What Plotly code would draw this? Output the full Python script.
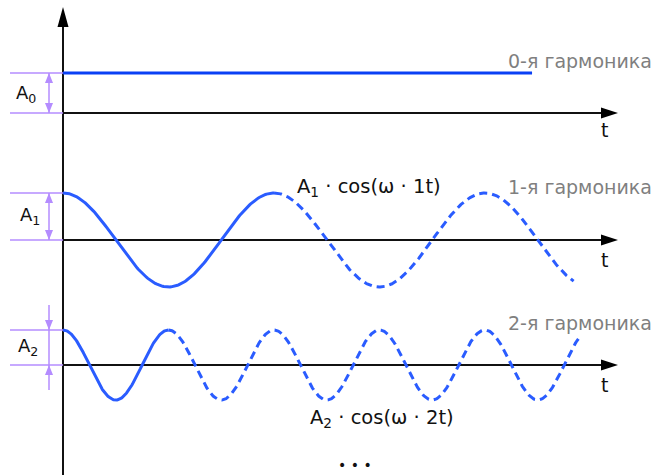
import numpy as np
import plotly.graph_objects as go

# ---------------- data ----------------
harmonics = [0, 1, 2]                       # harmonic number n
amplitudes = [40, 47, 35]                   # A0, A1, A2 (chart units)
baselines = [362, 235, 110]                 # zero level of each row (chart units)
solid_until = [2.223, 1.0, 0.5]             # solid part ends here (t, in periods of 1st harmonic)
curve_end = [2.223, 2.42, 2.445]            # curve ends here (t)
harmonic_labels = ["0-я гармоника", "1-я гармоника", "2-я гармоника"]
amp_labels = ["A<sub>0</sub>", "A<sub>1</sub>", "A<sub>2</sub>"]
formula_labels = {1: "A<sub>1</sub> · cos(ω · 1t)", 2: "A<sub>2</sub> · cos(ω · 2t)"}
axis_label = "t"
ellipsis = "• • •"

# ---------------- layout constants ----------------
W, H = 655, 475
X0_PX = 63          # pixel x of t = 0
PX_PER_T = 211      # pixels per period of 1st harmonic


def X(px):
    return (px - X0_PX) / PX_PER_T


def Y(py):
    return H - py


BLUE_SOLID = "#2a5cff"
BLUE_ROW0 = "#0a40f5"
PURPLE = "#b48cff"
GRAY = "#7f7f7f"
FONT = "DejaVu Sans"

fig = go.Figure()


def poly(xs, ys, color):
    fig.add_trace(go.Scatter(x=list(xs) + [xs[0]], y=list(ys) + [ys[0]], mode="lines",
                             fill="toself", fillcolor=color, line=dict(width=0, color=color),
                             hoverinfo="skip", showlegend=False))


def seg(xs, ys, color, width, dash="solid"):
    fig.add_trace(go.Scatter(x=xs, y=ys, mode="lines",
                             line=dict(color=color, width=width, dash=dash),
                             hoverinfo="skip", showlegend=False))


# vertical axis with arrow
seg([0, 0], [Y(475), Y(26)], "#111111", 2)
poly([X(57.5), X(68.5), X(63)], [Y(27), Y(27), Y(7)], "#000000")

for n, A, b, s_end, c_end, lab, alab in zip(harmonics, amplitudes, baselines,
                                            solid_until, curve_end, harmonic_labels, amp_labels):
    # horizontal axis
    seg([0, X(602)], [b, b], "#111111", 2)
    poly([X(601), X(601), X(618)], [b + 5.5, b - 5.5, b], "#000000")

    # curve
    if n == 0:
        seg([0, c_end], [b + A, b + A], BLUE_ROW0, 3)
    else:
        ts = np.linspace(0, s_end, 200)
        seg(ts, b + A * np.cos(2 * np.pi * n * ts), BLUE_SOLID, 3)
        td = np.linspace(s_end, c_end, 600)
        seg(td, b + A * np.cos(2 * np.pi * n * td), BLUE_SOLID, 3, dash="8px,5px")

    # amplitude marks
    xl, xa = X(10), X(49)
    seg([xl, 0], [b + A, b + A], PURPLE, 1.5)
    seg([xl, 0], [b, b], PURPLE, 1.5)
    hw, hh = 4 / PX_PER_T, 10
    if n < 2:
        seg([xa, xa], [b, b + A], PURPLE, 1.5)
        poly([xa - hw, xa + hw, xa], [b + A - hh, b + A - hh, b + A], PURPLE)
        poly([xa - hw, xa + hw, xa], [b + hh, b + hh, b], PURPLE)
    else:
        seg([xa, xa], [b + A + 25, b - 25], PURPLE, 1.5)
        poly([xa - hw, xa + hw, xa], [b + A + hh, b + A + hh, b + A], PURPLE)
        poly([xa - hw, xa + hw, xa], [b - hh, b - hh, b], PURPLE)

annotations = []
label_y_px = [61, 187, 323]
t_y_px = [130, 260, 385]
amp_xy_px = [(14, 94), (18, 216), (16, 347)]
for i in range(3):
    annotations.append(dict(x=X(506), y=Y(label_y_px[i]), text=harmonic_labels[i],
                            xanchor="left", yanchor="middle", showarrow=False,
                            font=dict(family=FONT, size=19, color=GRAY)))
    annotations.append(dict(x=X(604), y=Y(t_y_px[i]), text=axis_label,
                            xanchor="center", yanchor="middle", showarrow=False,
                            font=dict(family=FONT, size=19, color="#111111")))
    annotations.append(dict(x=X(amp_xy_px[i][0]), y=Y(amp_xy_px[i][1]), text=amp_labels[i],
                            xanchor="left", yanchor="middle", showarrow=False,
                            font=dict(family=FONT, size=18, color="#111111")))

annotations.append(dict(x=X(295), y=Y(187), text=formula_labels[1], xanchor="left",
                        yanchor="middle", showarrow=False,
                        font=dict(family=FONT, size=19.5, color="#111111")))
annotations.append(dict(x=X(308), y=Y(418), text=formula_labels[2], xanchor="left",
                        yanchor="middle", showarrow=False,
                        font=dict(family=FONT, size=19.5, color="#111111")))
annotations.append(dict(x=X(355), y=Y(465), text=ellipsis, xanchor="center",
                        yanchor="middle", showarrow=False,
                        font=dict(family=FONT, size=14, color="#111111")))

fig.update_layout(
    width=W, height=H, margin=dict(l=0, r=0, t=0, b=0),
    paper_bgcolor="white", plot_bgcolor="white",
    xaxis=dict(range=[X(0), X(W)], visible=False, fixedrange=True),
    yaxis=dict(range=[0, H], visible=False, fixedrange=True),
    annotations=annotations, showlegend=False,
)

fig.write_html("out.html", config={"displayModeBar": False},
               post_script="document.body.style.margin='0';document.body.style.overflow='hidden';")
